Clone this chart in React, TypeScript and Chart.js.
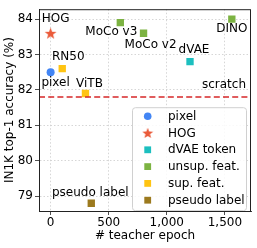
import React, { useEffect, useRef } from "react";
import { Chart, registerables } from "chart.js";
Chart.register(...registerables);

// ---- data ----
const xMin = -100;
const xMax = 1725;
const yMin = 78.58;
const yMax = 84.28;
const xTicks = [0, 500, 1000, 1500];
const yTicks = [79, 80, 81, 82, 83, 84];
const scratchAcc = 81.8;

const pixelPts = [{ x: 0, y: 82.5, name: "pixel" }];
const hogPts = [{ x: 0, y: 83.6, name: "HOG" }];
const dvaePts = [{ x: 1200, y: 82.8, name: "dVAE" }];
const unsupPts = [
  { x: 600, y: 83.9, name: "MoCo v3" },
  { x: 800, y: 83.6, name: "MoCo v2" },
  { x: 1560, y: 84.0, name: "DINO" },
];
const supPts = [
  { x: 100, y: 82.6, name: "RN50" },
  { x: 300, y: 81.9, name: "ViTB" },
];
const pseudoPts = [{ x: 350, y: 78.8, name: "pseudo label" }];

const legendNames = ["pixel", "HOG", "dVAE token", "unsup. feat.", "sup. feat.", "pseudo label"];
const colors = ["#4285F4", "#EA5B3A", "#1CBFBF", "#7CB342", "#FFC412", "#9C7A1E"];

// label offsets (pixels, text center relative to point)
const labelOffsets: Record<string, [number, number]> = {
  HOG: [5, -14],
  pixel: [5, 11],
  RN50: [6, -12],
  ViTB: [4, -10],
  "MoCo v3": [-9, 9],
  "MoCo v2": [7, 12],
  dVAE: [4, -12],
  DINO: [0, 10],
  "pseudo label": [-1, -10],
};

const FONT = "DejaVu Sans";

function makeStar(size: number, color: string) {
  const c = document.createElement("canvas");
  c.width = size;
  c.height = size;
  const ctx = c.getContext("2d")!;
  const cx = size / 2, cy = size / 2;
  const R = size / 2 - 0.3, r = R * 0.42;
  ctx.beginPath();
  for (let i = 0; i < 10; i++) {
    const rad = i % 2 === 0 ? R : r;
    const a = -Math.PI / 2 + (i * Math.PI) / 5;
    const px = cx + rad * Math.cos(a);
    const py = cy + rad * Math.sin(a) + 0.5;
    if (i === 0) ctx.moveTo(px, py);
    else ctx.lineTo(px, py);
  }
  ctx.closePath();
  ctx.fillStyle = color;
  ctx.fill();
  return c;
}

export default function App() {
  const ref = useRef<HTMLCanvasElement>(null);
  useEffect(() => {
    document.body.style.margin = "0";
    const star = makeStar(13, colors[1]);
    const starSmall = makeStar(12, colors[1]);

    const groups = [pixelPts, hogPts, dvaePts, unsupPts, supPts, pseudoPts];
    const styles: any[] = ["circle", star, "rect", "rect", "rect", "rect"];
    const radii = [4, 6, 5.2, 5.2, 5.2, 5.2];

    const datasets: any[] = groups.map((g, i) => ({
      label: legendNames[i],
      data: g,
      backgroundColor: colors[i],
      borderColor: colors[i],
      borderWidth: 0,
      pointStyle: styles[i],
      pointRadius: radii[i],
      showLine: false,
    }));
    datasets.unshift({
      label: "scratch",
      data: [
        { x: xMin, y: scratchAcc },
        { x: xMax, y: scratchAcc },
      ],
      borderColor: "#D62728",
      borderWidth: 1.6,
      borderDash: [6, 3.2],
      pointRadius: 0,
      showLine: true,
      type: "line",
    });

    const overlay = {
      id: "overlay",
      afterDatasetsDraw(chart: any) {
        const ctx = chart.ctx;
        const xs = chart.scales.x, ys = chart.scales.y;
        const area = chart.chartArea;
        ctx.save();
        ctx.font = `12px '${FONT}'`;
        ctx.fillStyle = "#000";
        ctx.textAlign = "center";
        ctx.textBaseline = "middle";
        groups.forEach((g) =>
          g.forEach((p) => {
            const off = labelOffsets[p.name] || [0, -10];
            ctx.fillText(p.name, xs.getPixelForValue(p.x) + off[0], ys.getPixelForValue(p.y) + off[1]);
          })
        );
        ctx.textAlign = "right";
        ctx.fillText("scratch", area.right - 5, ys.getPixelForValue(scratchAcc) - 12);

        // legend
        const lx = area.left + 93, ly = area.top + 98, lw = 114, lh = 103;
        ctx.beginPath();
        ctx.roundRect(lx + 0.5, ly + 0.5, lw, lh, 3);
        ctx.fillStyle = "rgba(255,255,255,0.85)";
        ctx.fill();
        ctx.strokeStyle = "#D0D0D0";
        ctx.lineWidth = 1;
        ctx.stroke();
        ctx.textAlign = "left";
        legendNames.forEach((n, i) => {
          const cy = ly + 9 + i * 16.8;
          const mx = lx + 15.7;
          ctx.fillStyle = colors[i];
          if (i === 0) {
            ctx.beginPath();
            ctx.arc(mx, cy, 3.8, 0, Math.PI * 2);
            ctx.fill();
          } else if (i === 1) {
            ctx.drawImage(starSmall, mx - 6, cy - 6);
          } else {
            ctx.fillRect(mx - 3.4, cy - 3.4, 6.8, 6.8);
          }
          ctx.fillStyle = "#000";
          ctx.fillText(n, lx + 36, cy + 0.5);
        });

        // frame
        ctx.strokeStyle = "#222";
        ctx.lineWidth = 1;
        ctx.strokeRect(area.left + 0.5, area.top + 0.5, area.right - area.left - 1, area.bottom - area.top);
        ctx.restore();
      },
    };

    const tickFont = { family: FONT, size: 12 };
    const chart = new Chart(ref.current!, {
      type: "scatter",
      data: { datasets },
      options: {
        animation: false,
        responsive: false,
        layout: { padding: { left: 0, right: 6, top: 5, bottom: 0 } },
        plugins: { legend: { display: false }, tooltip: { enabled: false } },
        scales: {
          x: {
            type: "linear",
            min: xMin,
            max: xMax,
            afterBuildTicks: (s: any) => {
              s.ticks = xTicks.map((v) => ({ value: v }));
            },
            afterFit: (s: any) => {
              s.height = 37;
            },
            ticks: { font: tickFont, color: "#000", padding: 1, maxRotation: 0, autoSkip: false },
            grid: { color: "#CCCCCC", lineWidth: 0.8, tickLength: 4, tickColor: "#222", tickBorderDash: [] as any, drawTicks: true },
            border: { color: "#222", width: 1, dash: [1.5, 2] },
            title: { display: true, text: "# teacher epoch", font: tickFont, color: "#000", padding: { top: 0, bottom: 5 } },
          },
          y: {
            type: "linear",
            min: yMin,
            max: yMax,
            afterBuildTicks: (s: any) => {
              s.ticks = yTicks.map((v) => ({ value: v }));
            },
            afterFit: (s: any) => {
              s.width = 39;
            },
            ticks: { font: tickFont, color: "#000", padding: 2, autoSkip: false },
            grid: { color: "#CCCCCC", lineWidth: 0.8, tickLength: 4, tickColor: "#222" },
            border: { color: "#222", width: 1, dash: [1.5, 2] },
            title: { display: true, text: "IN1K top-1 accuracy (%)", font: tickFont, color: "#000", padding: { top: 3, bottom: 0 } },
          },
        },
      },
      plugins: [overlay],
    } as any);
    return () => chart.destroy();
  }, []);
  return <canvas ref={ref} width={257} height={248} style={{ width: 257, height: 248, display: "block" }} />;
}
